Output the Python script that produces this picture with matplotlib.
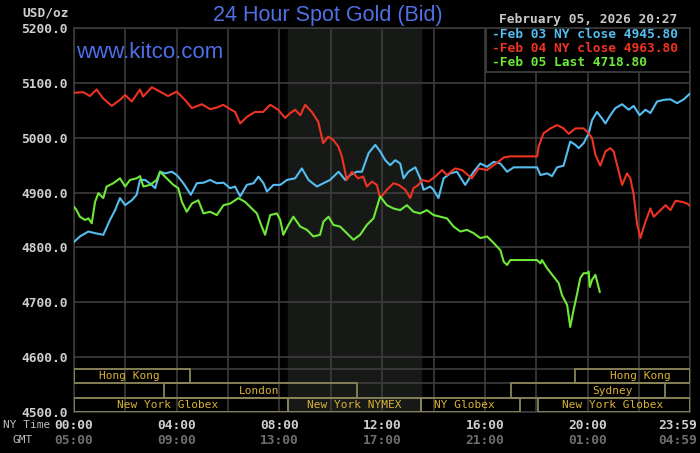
import matplotlib
matplotlib.use('Agg')
import matplotlib.pyplot as plt
from matplotlib.patches import Rectangle
from matplotlib import transforms

# horas (NY) e precos
t03 = [0.00,0.23,0.56,0.82,1.14,1.40,1.60,1.79,1.99,2.25,2.44,2.57,2.77,3.03,3.16,3.35,3.55,3.81,4.00,4.26,
       4.55,4.78,5.04,5.30,5.56,5.82,6.08,6.27,6.47,6.73,6.99,7.18,7.38,7.51,7.77,8.03,8.29,8.61,8.87,9.13,
       9.46,9.71,9.97,10.30,10.56,10.75,11.01,11.21,11.47,11.73,11.92,12.12,12.31,12.51,12.70,12.83,13.02,13.29,13.48,13.61,
       13.87,14.00,14.19,14.39,14.65,14.91,15.23,15.56,15.82,16.08,16.34,16.60,16.86,17.12,18.03,18.16,18.42,18.61,18.81,19.06,
       19.32,19.52,19.65,19.84,20.04,20.17,20.36,20.56,20.69,20.88,21.08,21.34,21.60,21.79,22.02,22.25,22.44,22.70,22.96,23.22,
       23.48,23.74,23.97]
p03 = [4810,4820,4829,4826,4823,4850,4868,4890,4877,4886,4896,4923,4923,4914,4908,4938,4935,4938,4932,4917,
       4896,4917,4918,4923,4917,4918,4908,4911,4893,4914,4917,4929,4917,4902,4914,4914,4923,4926,4944,4923,
       4911,4917,4923,4938,4923,4932,4938,4938,4972,4987,4975,4959,4950,4959,4953,4926,4938,4946,4926,4905,
       4911,4905,4890,4926,4935,4938,4914,4938,4953,4947,4956,4953,4938,4946,4946,4932,4935,4930,4946,4949,
       4993,4987,4981,4990,5008,5032,5047,5035,5026,5041,5054,5061,5051,5058,5041,5051,5045,5066,5069,5070,
       5063,5070,5080]

t04 = [0.00,0.36,0.62,0.88,1.13,1.47,1.79,1.99,2.25,2.57,2.69,3.03,3.35,3.66,4.00,4.32,4.59,4.98,5.30,5.56,
       5.81,6.08,6.27,6.47,6.73,7.05,7.36,7.64,7.95,8.22,8.42,8.61,8.81,9.00,9.26,9.51,9.70,9.90,10.09,10.29,
       10.43,10.62,10.82,11.06,11.26,11.40,11.60,11.79,11.92,12.18,12.44,12.64,12.90,13.09,13.22,13.41,13.55,13.80,14.06,14.33,
       14.52,14.84,15.11,15.49,15.75,16.08,16.34,16.60,16.73,16.99,18.03,18.09,18.28,18.55,18.81,19.06,19.26,19.52,19.84,20.04,
       20.17,20.30,20.49,20.69,20.88,21.01,21.21,21.34,21.53,21.66,21.79,21.92,22.05,22.25,22.44,22.57,22.77,23.03,23.22,23.42,
       23.68,23.87,23.98]
p04 = [5082,5083,5076,5088,5072,5058,5069,5078,5066,5088,5075,5092,5084,5076,5084,5069,5054,5061,5052,5055,
       5060,5052,5047,5026,5038,5047,5047,5060,5051,5036,5045,5051,5041,5060,5047,5029,4990,5002,4996,4984,
       4966,4923,4938,4926,4929,4911,4920,4914,4890,4905,4917,4914,4905,4890,4908,4914,4923,4920,4929,4941,
       4932,4944,4941,4926,4944,4941,4950,4959,4964,4966,4966,4984,5008,5017,5023,5017,5007,5017,5017,5008,
       4999,4969,4949,4975,4981,4975,4938,4914,4935,4926,4896,4844,4817,4847,4871,4856,4865,4877,4868,4885,
       4883,4880,4876]

t05 = [0.00,0.10,0.23,0.43,0.56,0.69,0.82,0.95,1.14,1.27,1.53,1.79,1.99,2.18,2.44,2.57,2.70,2.96,3.22,3.35,
       3.61,3.87,4.06,4.20,4.39,4.59,4.84,5.04,5.30,5.56,5.82,6.08,6.40,6.66,6.92,7.12,7.31,7.44,7.64,7.90,
       8.03,8.15,8.35,8.54,8.81,9.07,9.32,9.58,9.71,9.91,10.10,10.36,10.62,10.88,11.14,11.40,11.66,11.92,12.18,12.44,
       12.70,12.96,13.22,13.48,13.74,14.00,14.26,14.52,14.78,15.04,15.30,15.56,15.82,16.08,16.30,16.60,16.73,16.86,16.99,18.03,
       18.16,18.22,18.42,18.67,18.87,19.00,19.20,19.32,19.45,19.59,19.71,19.84,19.97,20.04,20.08,20.17,20.30,20.47]
p05 = [4874,4868,4856,4850,4853,4844,4883,4899,4890,4911,4917,4926,4911,4923,4926,4930,4911,4914,4923,4938,
       4926,4914,4908,4883,4865,4880,4886,4862,4865,4859,4877,4880,4890,4883,4871,4862,4838,4823,4859,4862,
       4850,4823,4841,4856,4838,4832,4820,4823,4847,4856,4841,4838,4826,4814,4823,4841,4853,4893,4877,4871,
       4868,4877,4865,4862,4868,4859,4856,4853,4838,4829,4832,4826,4817,4820,4810,4795,4774,4768,4777,4777,
       4771,4777,4762,4747,4735,4713,4695,4655,4686,4716,4744,4753,4753,4756,4728,4741,4750,4719]

legenda = ['-Feb 03 NY close 4945.80', '-Feb 04 NY close 4963.80', '-Feb 05 Last 4718.80']
cores = ['#55bdf0', '#ee3322', '#6ee83a']

y_ticks = [4500, 4600, 4700, 4800, 4900, 5000, 5100, 5200]
x_ticks = [0, 4, 8, 12, 16, 20, 23.983]
ny_labels = ['00:00', '04:00', '08:00', '12:00', '16:00', '20:00', '23:59']
gmt_labels = ['05:00', '09:00', '13:00', '17:00', '21:00', '01:00', '04:59']

# sessoes: nome, inicio, fim, linha (0 = topo), posicao do texto
sess_nome = ['Hong Kong', 'London', 'New York Globex', 'New York NYMEX', 'NY Globex',
             'New York Globex', 'Sydney', 'Hong Kong']
sess_ini = [0, 3.5, 0, 8.33, 13.5, 18.05, 17.0, 19.5]
sess_fim = [4.5, 11.0, 8.33, 13.5, 17.35, 23.983, 23.0, 23.983]
sess_linha = [0, 1, 2, 2, 2, 2, 1, 0]
sess_txt = [2.14, 7.2, 3.64, 10.9, 15.2, 20.96, 20.96, 22.05]
nymex = (8.33, 13.5)

grade = '#3c3c3c'
mono = 'DejaVu Sans Mono'

fig = plt.figure(figsize=(7, 4.53), dpi=100, facecolor='black')
ax = fig.add_axes([74/700, 1-412/453, 616/700, 384/453])
ax.set_facecolor('black')
ax.set_xlim(0, 23.983)
ax.set_ylim(4500, 5200)

ax.axvspan(nymex[0], nymex[1], color='#161916', zorder=0)

for h in range(0, 25, 2):
    ax.axvline(h, color=grade, lw=1.2, zorder=1)
for v in y_ticks:
    ax.axhline(v, color=grade, lw=1.2, zorder=1)

# linhas das sessoes
alt = 26.1
for i in range(3):
    ax.axhline(4500 + alt*(i+1), color=grade, lw=1.2, zorder=1)
for nome, a, b, lin, tx in zip(sess_nome, sess_ini, sess_fim, sess_linha, sess_txt):
    y0 = 4500 + (2-lin)*alt
    ax.add_patch(Rectangle((a, y0), b-a, alt, fill=False, edgecolor='#8a8458', lw=1.3, zorder=3))
    ax.text(tx, y0 + alt/2, nome, color='#d8b234', fontsize=8, family=mono,
            ha='center', va='center', zorder=4)

ax.plot(t03, p03, color=cores[0], lw=1.5, zorder=5)
ax.plot(t04, p04, color=cores[1], lw=1.5, zorder=5)
ax.plot(t05, p05, color=cores[2], lw=1.5, zorder=5)

for s in ax.spines.values():
    s.set_color(grade)
    s.set_linewidth(1.2)

ax.set_yticks(y_ticks)
ax.set_yticklabels([f'{v:.1f}' for v in y_ticks], family=mono, fontweight='bold',
                   fontsize=9.3, color='#cfcfcf')
ax.tick_params(axis='y', length=0, pad=4.3)
ax.set_xticks([])

trans = ax.get_xaxis_transform()
for i, x in enumerate(x_ticks):
    ha = 'center'
    tr = trans
    if i == len(x_ticks) - 1:
        ha = 'right'
        tr = trans + transforms.ScaledTranslation(0.07, 0, fig.dpi_scale_trans)
    ax.text(x, -0.034, ny_labels[i], transform=tr, ha=ha, va='center', family=mono,
            fontweight='bold', fontsize=9.3, color='#cfcfcf')
    ax.text(x, -0.073, gmt_labels[i], transform=tr, ha=ha, va='center', family=mono,
            fontweight='bold', fontsize=9.3, color='#6e6e6e')

fig.text(3/700, 1-425/453, 'NY Time', family=mono, fontsize=8, color='#bdbdbd', va='center')
fig.text(22.5/700, 1-440/453, 'GMT', family=mono, fontsize=8, color='#bdbdbd', va='center', ha='center')
fig.text(69/700, 1-13/453, 'USD/oz', family=mono, fontweight='bold', fontsize=9.3,
         color='#cfcfcf', va='center', ha='right')

fig.text(328/700, 1-15/453, '24 Hour Spot Gold (Bid)', family='Liberation Sans', fontsize=15.5,
         color='#5070e6', ha='center', va='center')
ax.text(76/700, 1-52/453, 'www.kitco.com', transform=fig.transFigure, family='Liberation Sans',
        fontsize=16, color='#4c6ee8', ha='left', va='center', zorder=6)
fig.text(588/700, 1-20/453, 'February 05, 2026 20:27', family=mono, fontweight='bold',
         fontsize=9.3, color='#c8c8c8', ha='center', va='center')

# caixa da legenda
ax.add_patch(Rectangle(((486-74)/616, (412-72)/384), (690-486)/616, 44/384, transform=ax.transAxes,
                       facecolor='black', edgecolor=grade, lw=1.3, zorder=6))
for i, txt in enumerate(legenda):
    ax.text((492-74)/616, (412-35-14*i)/384, txt, transform=ax.transAxes, family=mono,
            fontweight='bold', fontsize=9.3, color=cores[i], va='center', ha='left', zorder=7)

fig.savefig('out.png', dpi=100, facecolor='black')
